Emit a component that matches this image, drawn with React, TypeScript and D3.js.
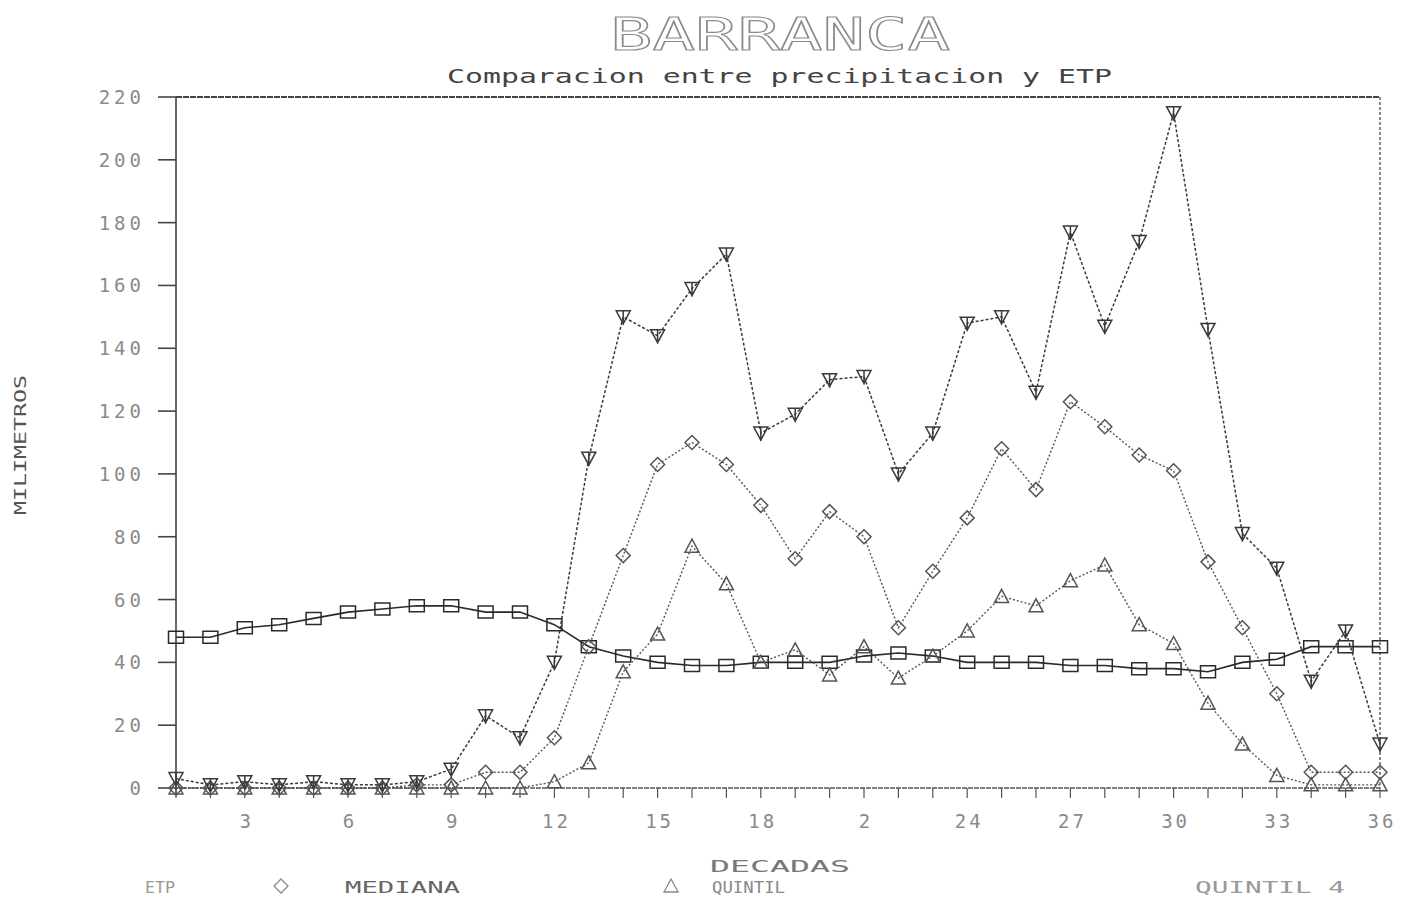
import React from 'react';
import * as d3 from 'd3';

// decades 1..36
const decadas = d3.range(1, 37);

const etp = [48, 48, 51, 52, 54, 56, 57, 58, 58, 56, 56, 52, 45, 42, 40, 39, 39, 40, 40, 40, 42, 43, 42, 40, 40, 40, 39, 39, 38, 38, 37, 40, 41, 45, 45, 45];
const mediana = [0, 0, 0, 0, 0, 0, 0, 1, 1, 5, 5, 16, 45, 74, 103, 110, 103, 90, 73, 88, 80, 51, 69, 86, 108, 95, 123, 115, 106, 101, 72, 51, 30, 5, 5, 5];
const quintil = [0, 0, 0, 0, 0, 0, 0, 0, 0, 0, 0, 2, 8, 37, 49, 77, 65, 40, 44, 36, 45, 35, 42, 50, 61, 58, 66, 71, 52, 46, 27, 14, 4, 1, 1, 1];
const quintil4 = [3, 1, 2, 1, 2, 1, 1, 2, 6, 23, 16, 40, 105, 150, 144, 159, 170, 113, 119, 130, 131, 100, 113, 148, 150, 126, 177, 147, 174, 215, 146, 81, 70, 34, 50, 14];

const yTicks = [0, 20, 40, 60, 80, 100, 120, 140, 160, 180, 200, 220];
const xTickLabels: [number, string][] = [
  [3, '3'], [6, '6'], [9, '9'], [12, '12'], [15, '15'], [18, '18'],
  [21, '2'], [24, '24'], [27, '27'], [30, '30'], [33, '33'], [36, '36'],
];

const W = 1407;
const H = 906;
const FONT = '"DejaVu Sans Mono", monospace';

const x = d3.scaleLinear().domain([1, 36]).range([176, 1380]);
const y = d3.scaleLinear().domain([0, 220]).range([788, 97]);

type Marker = 'square' | 'diamond' | 'triangle' | 'down';

function markerPath(kind: Marker): string {
  switch (kind) {
    case 'square':
      return 'M-7.5,-6H7.5V6H-7.5Z';
    case 'diamond':
      return 'M0,-7L7,0L0,7L-7,0Z';
    case 'triangle':
      return 'M0,-7L7,6H-7Z';
    case 'down':
      return 'M-7,-6H7L0,7Z M0,-6V8';
  }
}

const series: { name: string; values: number[]; marker: Marker; color: string; dash: string; width: number }[] = [
  { name: 'ETP', values: etp, marker: 'square', color: '#2a2a2a', dash: '', width: 1.6 },
  { name: 'MEDIANA', values: mediana, marker: 'diamond', color: '#555', dash: '2,2', width: 1.4 },
  { name: 'QUINTIL', values: quintil, marker: 'triangle', color: '#555', dash: '2,2', width: 1.4 },
  { name: 'QUINTIL 4', values: quintil4, marker: 'down', color: '#3a3a3a', dash: '3,2', width: 1.5 },
];

export default function App() {
  const line = d3.line<number>()
    .x((_, i) => x(decadas[i]))
    .y(d => y(d));

  return (
    <div style={{ position: 'absolute', left: 0, top: 0, width: W, height: H, background: '#fff' }}>
      <svg width={W} height={H} style={{ display: 'block', fontFamily: FONT }}>
        {/* titles */}
        <text x={610} y={50} fontSize={44} textLength={340} lengthAdjust="spacingAndGlyphs"
          fill="none" stroke="#8a8a8a" strokeWidth={1.1}>BARRANCA</text>
        <text x={447} y={83} fontSize={20} textLength={665} lengthAdjust="spacingAndGlyphs"
          fill="#444">Comparacion entre precipitacion y ETP</text>

        {/* frame */}
        <line x1={176} x2={1380} y1={y(220)} y2={y(220)} stroke="#444" strokeWidth={2} strokeDasharray="6,1" />
        <line x1={1380} x2={1380} y1={y(220)} y2={y(0)} stroke="#666" strokeWidth={1.5} strokeDasharray="3,2" />
        <line x1={176} x2={176} y1={y(220)} y2={y(0) + 8} stroke="#444" strokeWidth={1.6} />
        <line x1={176} x2={1380} y1={y(0)} y2={y(0)} stroke="#555" strokeWidth={1.5} strokeDasharray="5,1" />

        {/* y axis */}
        {yTicks.map(t => (
          <g key={t}>
            <line x1={158} x2={176} y1={y(t)} y2={y(t)} stroke="#444" strokeWidth={1.6} />
            <text x={145} y={y(t) + 7} fontSize={19} textAnchor="end" fill="#8a8a8a"
              letterSpacing={4}>{t}</text>
          </g>
        ))}
        <text transform={`translate(26,445) rotate(-90)`} fontSize={16} textAnchor="middle"
          fill="#555" textLength={140} lengthAdjust="spacingAndGlyphs">MILIMETROS</text>

        {/* x axis */}
        {decadas.map(d => (
          <line key={d} x1={x(d)} x2={x(d)} y1={y(0)} y2={y(0) + 10} stroke="#555" strokeWidth={1.2} />
        ))}
        {xTickLabels.map(([d, label]) => (
          <text key={d} x={x(d) + 2} y={828} fontSize={19} textAnchor="middle" fill="#8a8a8a"
            letterSpacing={3}>{label}</text>
        ))}
        <text x={710} y={872} fontSize={16} textLength={140} lengthAdjust="spacingAndGlyphs"
          fill="#777">DECADAS</text>

        {/* series */}
        {series.map(s => (
          <g key={s.name}>
            <path d={line(s.values) || ''} fill="none" stroke={s.color} strokeWidth={s.width}
              strokeDasharray={s.dash} />
            {s.values.map((v, i) => (
              <path key={i} transform={`translate(${x(decadas[i])},${y(v)})`} d={markerPath(s.marker)}
                fill="none" stroke={s.color} strokeWidth={1.5} />
            ))}
          </g>
        ))}

        {/* legend */}
        <text x={145} y={893} fontSize={16} textLength={30} lengthAdjust="spacingAndGlyphs" fill="#999">ETP</text>
        <path transform="translate(281,886)" d={markerPath('diamond')} fill="none" stroke="#888" strokeWidth={1.3} />
        <text x={345} y={893} fontSize={16} textLength={115} lengthAdjust="spacingAndGlyphs" fill="#666">MEDIANA</text>
        <path transform="translate(671,886)" d={markerPath('triangle')} fill="none" stroke="#888" strokeWidth={1.3} />
        <text x={712} y={893} fontSize={16} textLength={73} lengthAdjust="spacingAndGlyphs" fill="#888">QUINTIL</text>
        <text x={1195} y={893} fontSize={16} textLength={150} lengthAdjust="spacingAndGlyphs" fill="#999">QUINTIL 4</text>
      </svg>
    </div>
  );
}
